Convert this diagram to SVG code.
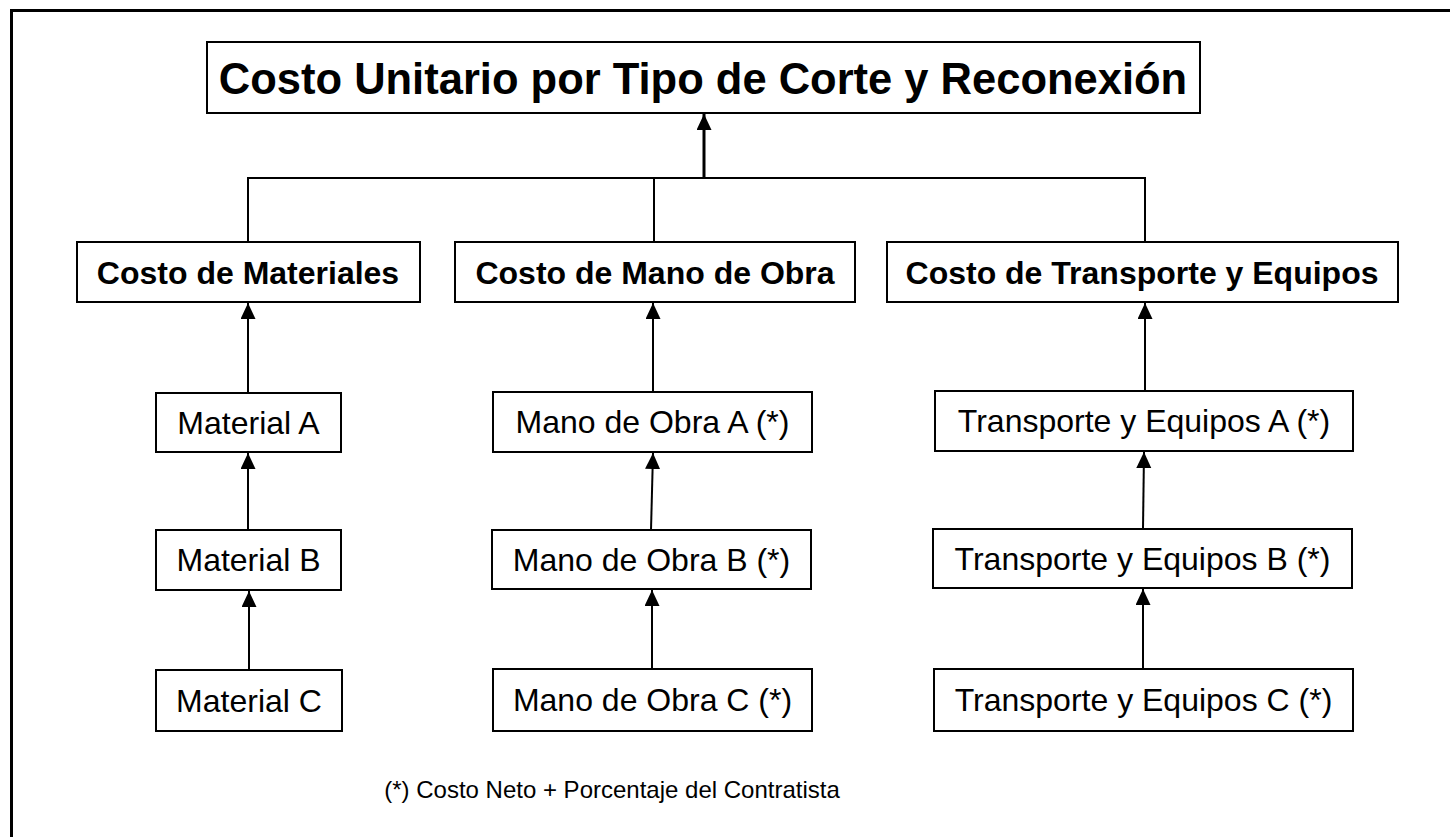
<svg xmlns="http://www.w3.org/2000/svg" width="1450" height="837" viewBox="0 0 1450 837">
<style>
.box{fill:#fff;stroke:#000;stroke-width:2}
.t{font-family:"Liberation Sans",Arial,sans-serif;text-anchor:middle;fill:#000}
.b{font-weight:bold;font-size:32px}
.r{font-size:32px}
.ln{fill:none;stroke:#000;stroke-width:2}
.ar{fill:none;stroke:#000;stroke-width:2;marker-end:url(#ah)}
</style>
<defs>
<marker id="ah" markerUnits="userSpaceOnUse" markerWidth="18" markerHeight="18" refX="16" refY="7.5" orient="auto">
<path d="M0,0 L16,7.5 L0,15 Z" fill="#000"/>
</marker>
</defs>
<rect x="0" y="0" width="1450" height="837" fill="#fff"/>
<path d="M11.5,840 V10.5 H1452" fill="none" stroke="#000" stroke-width="3"/>
<g id="connectors">
<path class="ln" d="M248,242 V178 H1145 V242 M654,178 V242"/>
<path class="ar" d="M704,178 V114" style="stroke-width:3"/>
<path class="ar" d="M248,393 V303"/>
<path class="ar" d="M248,530 V453"/>
<path class="ar" d="M249,670 V591"/>
<path class="ar" d="M653,392 V303"/>
<path class="ar" d="M651,530 L653,453"/>
<path class="ar" d="M652,669 V590"/>
<path class="ar" d="M1145,391 V303"/>
<path class="ar" d="M1143,529 L1144,452"/>
<path class="ar" d="M1143,669 V589"/>
</g>
<g id="title"><rect class="box" x="207" y="42" width="993" height="71"/><text class="t" x="703" y="94" style="font-weight:bold;font-size:43.5px">Costo Unitario por Tipo de Corte y Reconexión</text></g>
<g id="materiales"><rect class="box" x="77" y="242" width="343" height="60"/><text class="t b" x="248" y="284">Costo de Materiales</text></g>
<g id="manoobra"><rect class="box" x="455" y="242" width="400" height="60"/><text class="t b" x="655" y="284">Costo de Mano de Obra</text></g>
<g id="transporte"><rect class="box" x="887" y="242" width="511" height="60"/><text class="t b" x="1142" y="284">Costo de Transporte y Equipos</text></g>
<g id="matA"><rect class="box" x="156" y="393" width="185" height="59"/><text class="t r" x="248.5" y="434">Material A</text></g>
<g id="matB"><rect class="box" x="156" y="530" width="185" height="60"/><text class="t r" x="248.5" y="571">Material B</text></g>
<g id="matC"><rect class="box" x="156" y="670" width="186" height="61"/><text class="t r" x="249" y="712">Material C</text></g>
<g id="manoA"><rect class="box" x="493" y="392" width="319" height="60"/><text class="t r" x="652.5" y="433">Mano de Obra A (*)</text></g>
<g id="manoB"><rect class="box" x="492" y="530" width="319" height="59"/><text class="t r" x="651.5" y="571">Mano de Obra B (*)</text></g>
<g id="manoC"><rect class="box" x="493" y="669" width="319" height="62"/><text class="t r" x="652.5" y="711">Mano de Obra C (*)</text></g>
<g id="transA"><rect class="box" x="935" y="391" width="418" height="60"/><text class="t r" x="1144" y="432">Transporte y Equipos A (*)</text></g>
<g id="transB"><rect class="box" x="933" y="529" width="419" height="59"/><text class="t r" x="1142.5" y="570">Transporte y Equipos B (*)</text></g>
<g id="transC"><rect class="box" x="934" y="669" width="419" height="62"/><text class="t r" x="1143.5" y="711">Transporte y Equipos C (*)</text></g>
<g id="footnote"><text class="t" x="612" y="798" style="font-size:24px">(*) Costo Neto + Porcentaje del Contratista</text></g>
</svg>
